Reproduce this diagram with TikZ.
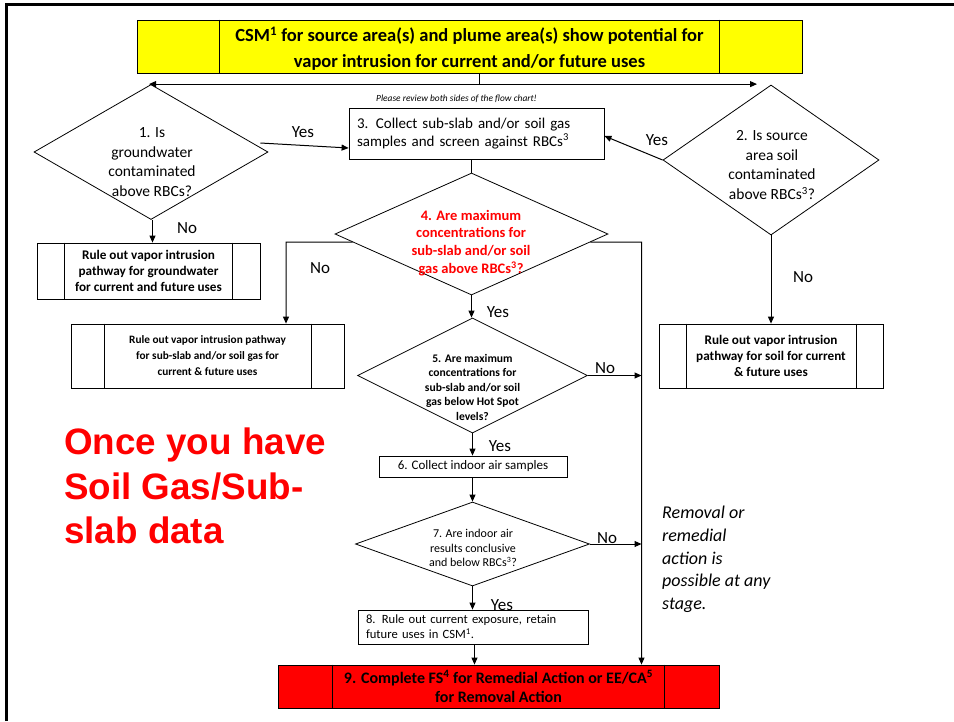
\documentclass[tikz,border=0pt]{standalone}
\usepackage{fontspec}
\setmainfont{Carlito}
\newfontfamily\arialf{Liberation Sans}
\usetikzlibrary{arrows.meta,shapes.geometric,calc}
\definecolor{pyellow}{RGB}{255,255,0}
\definecolor{pred}{RGB}{255,0,0}
\begin{document}
\begin{tikzpicture}[x=1pt,y=-1pt,
  shp/.style={draw=black, line width=0.8pt},
  boxn/.style={shp, rectangle, inner sep=0pt, align=center},
  dia/.style={shp, diamond, inner sep=0pt},
  conn/.style={line width=1pt},
  tip/.style={-{Triangle[length=7pt,width=6pt]}},
  arr/.style={conn, tip},
  lbl/.style={font=\fontsize{17}{19}\selectfont, inner sep=0pt},
  txt/.style={inner sep=0pt, align=center},
]
\useasboundingbox (0,0) rectangle (954,721);
\fill[white] (0,0) rectangle (954,721);
\draw[line width=3.5pt] (6.5,721) -- (6.5,4.5) -- (954,4.5);

% top box
\node[boxn, fill=pyellow, minimum width=665, minimum height=53] (top) at (469.5,46.5) {};
\node[txt, font=\bfseries\fontsize{18.5}{26}\selectfont] (ttop) at (469.5,48.5)
  {CSM\textsuperscript{1} for source area(s) and plume area(s) show potential for\\ vapor intrusion for current and/or future uses};
\draw[shp] ([shift={(83,0)}]top.north west) -- ([shift={(83,0)}]top.south west);
\draw[shp] ([shift={(-83,0)}]top.north east) -- ([shift={(-83,0)}]top.south east);

\node[txt, font=\itshape\fontsize{9.4}{11}\selectfont] (note) at (456.5,99) {Please review both sides of the flow chart!};

% diamonds
\node[dia, minimum width=234, minimum height=135] (d1) at (151,152) {};
\node[txt, font=\fontsize{15.5}{19.5}\selectfont] (t1) at (152,162) {1. Is\\ groundwater\\ contaminated\\ above RBCs?};

\node[dia, minimum width=216, minimum height=150] (d2) at (771,160) {};
\node[txt, font=\fontsize{15.5}{19.5}\selectfont] (t2) at (772,165) {2. Is source\\ area soil\\ contaminated\\ above RBCs\textsuperscript{3}?};

\node[dia, minimum width=273, minimum height=122] (d4) at (471.5,234) {};
\node[txt, text=pred, font=\bfseries\fontsize{14.5}{17.8}\selectfont] (t4) at (471,243) {4. Are maximum\\ concentrations for\\ sub-slab and/or soil\\ gas above RBCs\textsuperscript{3}?};

\node[dia, minimum width=230, minimum height=115] (d5) at (472.5,375.5) {};
\node[txt, font=\bfseries\fontsize{11.6}{14.5}\selectfont] (t5) at (472.5,387) {5. Are maximum\\ concentrations for\\ sub-slab and/or soil\\ gas below Hot Spot\\ levels?};

\node[dia, minimum width=234, minimum height=84] (d7) at (472.5,544) {};
\node[txt, font=\fontsize{12}{14.5}\selectfont] (t7) at (473,548) {7. Are indoor air\\ results conclusive\\ and below RBCs\textsuperscript{3}?};

% boxes
\node[boxn, fill=white, minimum width=255, minimum height=51, text width=239, inner xsep=8pt, align=left,
  font=\fontsize{15}{17.5}\selectfont] (b3) at (476.5,133.5)
  {3. Collect sub-slab and/or soil gas\\ samples and screen against RBCs\textsuperscript{3}};

\node[boxn, minimum width=223, minimum height=56, font=\bfseries\fontsize{13.2}{16}\selectfont] (L1) at (148.5,271)
  {Rule out vapor intrusion\\ pathway for groundwater\\ for current and future uses};
\draw[shp] ([shift={(28,0)}]L1.north west) -- ([shift={(28,0)}]L1.south west);
\draw[shp] ([shift={(-28,0)}]L1.north east) -- ([shift={(-28,0)}]L1.south east);

\node[boxn, minimum width=273, minimum height=64, font=\bfseries\fontsize{11.3}{16}\selectfont] (L2) at (207.5,356)
  {Rule out vapor intrusion pathway\\ for sub-slab and/or soil gas for\\ current \& future uses};
\draw[shp] ([shift={(34,0)}]L2.north west) -- ([shift={(34,0)}]L2.south west);
\draw[shp] ([shift={(-33,0)}]L2.north east) -- ([shift={(-33,0)}]L2.south east);

\node[boxn, minimum width=224, minimum height=64, font=\bfseries\fontsize{13.2}{16}\selectfont] (R) at (771,356)
  {Rule out vapor intrusion\\ pathway for soil for current\\ \& future uses};
\draw[shp] ([shift={(28,0)}]R.north west) -- ([shift={(28,0)}]R.south west);
\draw[shp] ([shift={(-27,0)}]R.north east) -- ([shift={(-27,0)}]R.south east);

\node[boxn, minimum width=188, minimum height=21, font=\fontsize{13}{14}\selectfont] (b6) at (473,466.5)
  {6. Collect indoor air samples};

\node[boxn, minimum width=230, minimum height=34, text width=214, inner xsep=8pt, align=left,
  font=\fontsize{12.6}{15}\selectfont] (b8) at (473,627)
  {8. Rule out current exposure, retain\\ future uses in CSM\textsuperscript{1}.};

\node[boxn, fill=pred, minimum width=441, minimum height=43, font=\bfseries\fontsize{16}{19}\selectfont] (b9) at (498.5,686.5)
  {9. Complete FS\textsuperscript{4} for Remedial Action or EE/CA\textsuperscript{5}\\ for Removal Action};
\draw[shp] ([shift={(55,0)}]b9.north west) -- ([shift={(55,0)}]b9.south west);
\draw[shp] ([shift={(-55,0)}]b9.north east) -- ([shift={(-55,0)}]b9.south east);

% free texts
\node[anchor=west, inner sep=0pt, align=left, text=pred, font=\arialf\bfseries\fontsize{36.8}{44.5}\selectfont] (big) at (64,486)
  {Once you have\\ Soil Gas/Sub-\\ slab data};

\node[anchor=north west, inner sep=0pt, align=left, font=\itshape\fontsize{18}{22.7}\selectfont] (rem) at (662,506)
  {Removal or\\ remedial\\ action is\\ possible at any\\ stage.};

% connectors
\draw[conn] ([shift={(9.5,0)}]top.south) -- ([shift={(9.5,0)}]top.south |- d1.north);
\draw[conn, {Triangle[length=7pt,width=6pt]}-{Triangle[length=7pt,width=6pt]}]
  ([shift={(-2,0)}]d1.north) -- ([shift={(-14,0)}]d2.north |- d1.north);

\draw[arr] ([shift={(-8,-9)}]d1.east) -- ([shift={(0,14.5)}]b3.west);
\node[lbl] (y1) at (303,132) {Yes};
\draw[arr] (d2.west) -- ([shift={(0,2.5)}]b3.east);
\node[lbl] (y2) at (657,140) {Yes};

\draw[arr] ([shift={(1.5,0)}]d1.south) -- ([shift={(1.5,0)}]d1.south |- L1.north);
\node[lbl] (n1) at (187,228) {No};
\draw[arr] (d2.south) -- (d2.south |- R.north);
\node[lbl] (n2) at (803,277) {No};

\draw[conn] (d4.north |- b3.south) -- (d4.north);

\coordinate (c4l) at (286,242);
\coordinate (c4r) at (641.5,242);
\draw[arr] ($(d4.west)!0.131!(d4.south)$) -- (c4l) -- (c4l |- L2.north);
\node[lbl] (n4) at (320,268) {No};
\draw[arr] ($(d4.east)!0.131!(d4.south)$) -- (c4r) -- (c4r |- b9.north);

\draw[arr] (d4.south) -- (d4.south |- d5.north);
\node[lbl] (y4) at (498,312) {Yes};
\draw[arr] (d5.east) -- (d5.east -| c4r);
\node[lbl] (n5) at (605,368) {No};
\draw[arr] (d5.south) -- (d5.south |- b6.north);
\node[lbl] (y5) at (500,446) {Yes};
\draw[arr] (d5.south |- b6.south) -- (d7.north);
\draw[arr] (d7.east) -- (d7.east -| c4r);
\node[lbl] (n7) at (607,538) {No};
\draw[arr] (d7.south) -- (d7.south |- b8.north);
\node[lbl] (y7) at (502,605) {Yes};
\draw[arr] ([shift={(1.5,0)}]b8.south) -- ([shift={(1.5,0)}]b8.south |- b9.north);
\end{tikzpicture}
\end{document}
